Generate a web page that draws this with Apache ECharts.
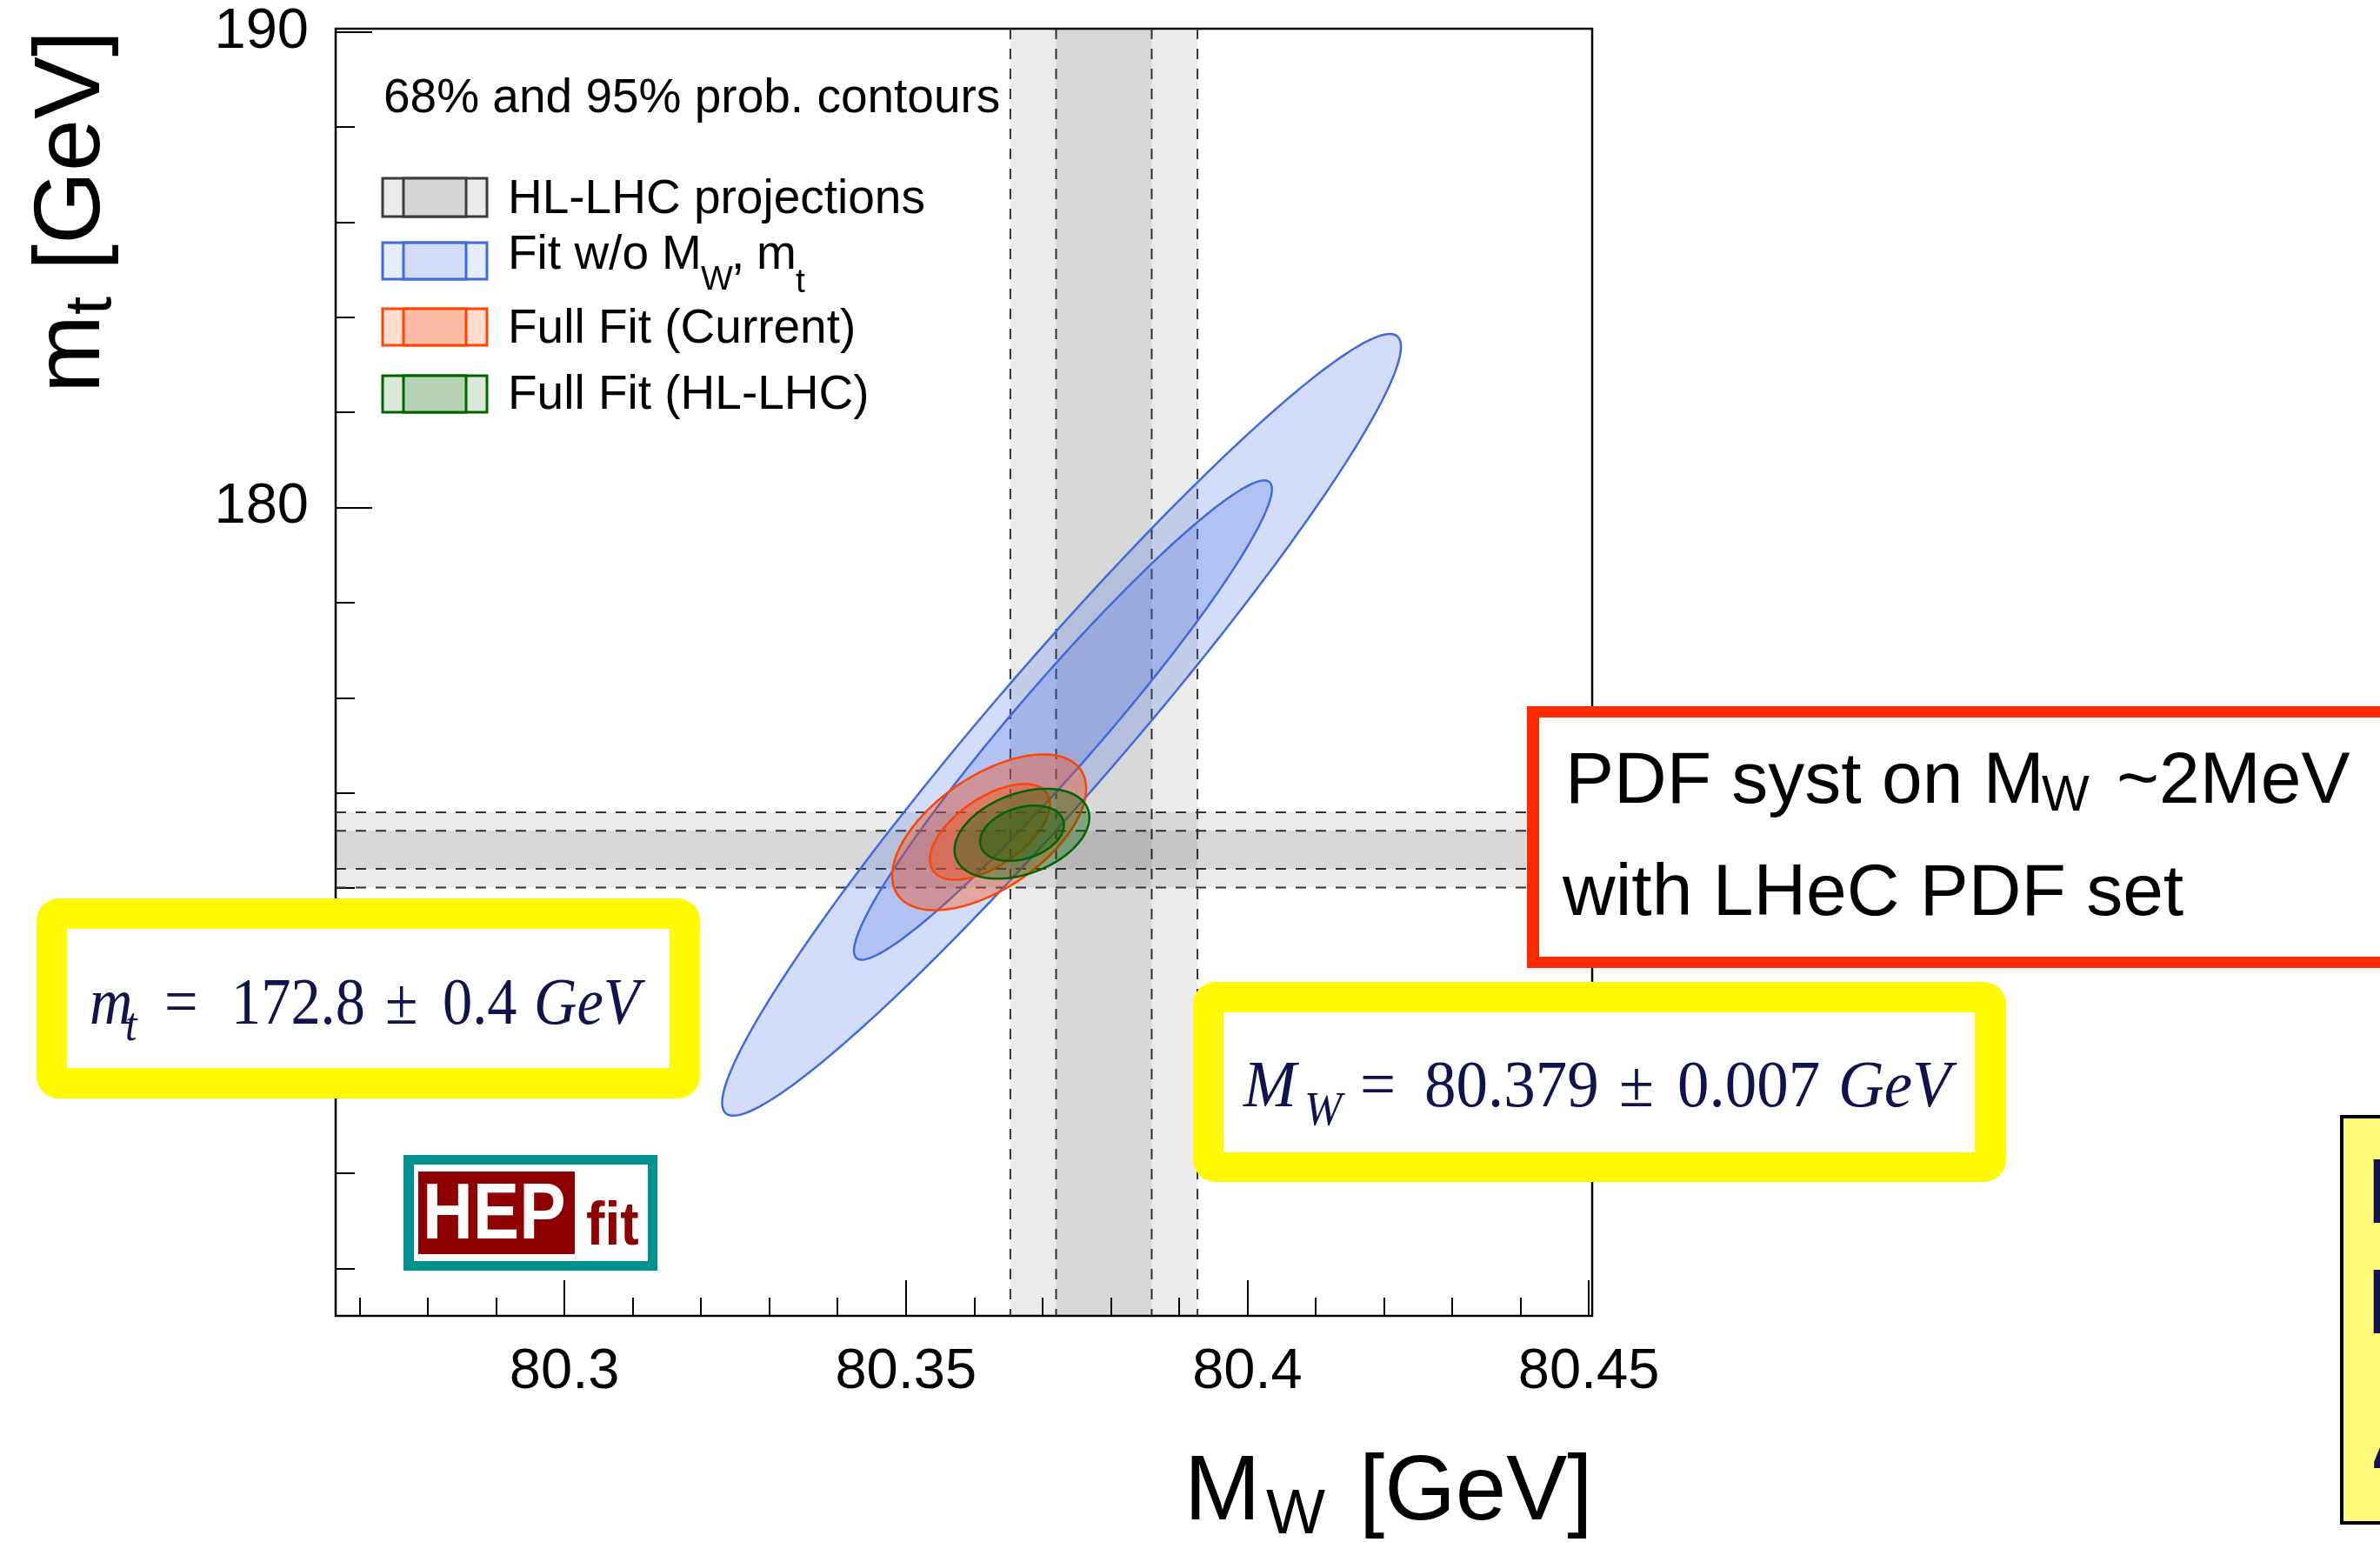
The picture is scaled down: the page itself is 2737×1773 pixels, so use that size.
<!DOCTYPE html>
<html>
<head>
<meta charset="utf-8">
<script src="https://cdn.jsdelivr.net/npm/echarts@6/dist/echarts.min.js"></script>
<style>
  html, body { margin: 0; padding: 0; background: #fff; }
  #chart { width: 2737px; height: 1773px; }
</style>
</head>
<body>
<div id="chart"></div>
<script>
// Axis ranges and tick positions
const mwRange = [80.2665, 80.4505];
const mtRange = [163, 190.07];
const mwMajorTicks = [80.3, 80.35, 80.4, 80.45];
const mwMinorTicks = [80.27, 80.28, 80.29, 80.31, 80.32, 80.33, 80.34, 80.36, 80.37,
                      80.38, 80.39, 80.41, 80.42, 80.43, 80.44];
const mtMajorTicks = [170, 180, 190];
const mtMinorTicks = [164, 166, 168, 172, 174, 176, 178, 182, 184, 186, 188];

// HL-LHC projected measurements: central value, 68% half-width, 95% half-width
const mwProjection = [80.379, 0.007, 0.0137];
const mtProjection = [172.8, 0.4, 0.79];

// Fit probability contours (one entry per contour, 95% drawn before 68%)
const fitStroke = ['#4169E1', '#FF4500', '#006400'];
const fitFill = ['rgba(65,105,225,0.23)', 'rgba(255,69,0,0.35)', 'rgba(0,100,0,0.35)'];
const contourFit = [0, 0, 1, 1, 2, 2];
const contourMw = [80.3728, 80.3730, 80.3622, 80.3623, 80.3670, 80.3670];
const contourMt = [175.43, 175.53, 173.17, 173.18, 173.14, 173.15];
const contourDMw = [0.0497, 0.0306, 0.0142, 0.00878, 0.00987, 0.00614];
const contourDMt = [8.22, 5.04, 1.638, 1.007, 0.946, 0.582];
const contourRho = [0.967, 0.963, 0.56, 0.58, 0.36, 0.30];

// Legend rows
const legendLabels = ['HL-LHC projections', 'Fit w/o', 'Full Fit (Current)', 'Full Fit (HL-LHC)'];
const legendStroke = ['#3c3c3c', '#4169E1', '#FF4500', '#006400'];
const legendLight = ['#EBEBEB', '#E6ECFB', '#FFDCD0', '#D9E8D9'];
const legendDark = ['#D6D6D6', '#D2DCF6', '#FFBBA6', '#B7D2B7'];

const NAVY = '#12124e';
const SANS = 'Liberation Sans';
const SERIF = 'Liberation Serif';

// text placed by its baseline
function T(x, base, str, fs, o) {
  o = o || {};
  const el = {
    type: 'text', x: x, y: base - 0.345 * fs, silent: true, z: o.z || 100,
    style: {
      text: str, fill: o.fill || '#000', fontSize: fs,
      fontFamily: o.family || SANS,
      fontStyle: o.italic ? 'italic' : 'normal',
      fontWeight: o.bold ? 'bold' : 'normal',
      textAlign: o.align || 'left', textVerticalAlign: 'middle'
    }
  };
  if (o.sx) { el.scaleX = o.sx; }
  return el;
}
function R(x, y, w, h, fill, o) {
  o = o || {};
  return {
    type: 'rect', silent: true, z: o.z || 90,
    shape: { x: x, y: y, width: w, height: h, r: o.r || 0 },
    style: { fill: fill, stroke: o.stroke || null, lineWidth: o.lw || 0 }
  };
}

const graphics = [];

// probability-contour note and legend
graphics.push(T(441, 133, '68% and 95% prob. contours', 55));
const legendTop = [205, 279, 355, 432];
const legendH = [44, 42, 42, 42];
for (let i = 0; i < 4; i++) {
  graphics.push(R(440, legendTop[i], 120, legendH[i], legendLight[i], { stroke: legendStroke[i], lw: 3 }));
  graphics.push(R(464, legendTop[i], 72, legendH[i], legendDark[i], { stroke: legendStroke[i], lw: 3, z: 91 }));
}
graphics.push(T(584, 249, legendLabels[0], 55));
graphics.push(T(584, 313, legendLabels[1], 55));
graphics.push(T(761, 313, 'M', 55));
graphics.push(T(806, 336, 'W', 39));
graphics.push(T(841, 313, ',', 55));
graphics.push(T(870, 313, 'm', 55));
graphics.push(T(915, 339, 't', 39));
graphics.push(T(584, 398, legendLabels[2], 55));
graphics.push(T(584, 474, legendLabels[3], 55));

// axis titles
graphics.push(T(1362, 1754, 'M', 105));
graphics.push(T(1456, 1768, 'W', 72));
graphics.push(T(1563, 1754, '[GeV]', 105));
graphics.push({
  type: 'group', x: 121, y: 452, rotation: Math.PI / 2, z: 100,
  children: [T(0, 0, 'm', 108), T(90, 11, 't', 76), T(141, 0, '[GeV]', 108)]
});

// m_t summary box
graphics.push(R(42, 1033, 763, 230, '#FFFA00', { r: 26 }));
graphics.push(R(77, 1068, 693, 160, '#ffffff', { z: 91 }));
const sf = { family: SERIF, fill: NAVY, sx: 0.9 };
const si = { family: SERIF, fill: NAVY, italic: true, sx: 0.9 };
graphics.push(T(103, 1183, 'm', 76, si));
graphics.push(T(144, 1200, 't', 54, si));
graphics.push(T(189, 1183, '=', 76, sf));
graphics.push(T(266, 1183, String(mtProjection[0]), 76, sf));
graphics.push(T(443, 1183, '±', 76, sf));
graphics.push(T(509, 1183, String(mtProjection[1]), 76, sf));
graphics.push(T(614, 1183, 'GeV', 76, si));

// M_W summary box
graphics.push(R(1372, 1129, 935, 230, '#FFFA00', { r: 26 }));
graphics.push(R(1407, 1164, 864, 161, '#ffffff', { z: 91 }));
const rf = { family: SERIF, fill: NAVY, sx: 0.96 };
const ri = { family: SERIF, fill: NAVY, italic: true, sx: 0.96 };
graphics.push(T(1430, 1278, 'M', 76, ri));
graphics.push(T(1500, 1297, 'W', 54, ri));
graphics.push(T(1564, 1278, '=', 76, rf));
graphics.push(T(1638, 1278, String(mwProjection[0]), 76, rf));
graphics.push(T(1862, 1278, '±', 76, rf));
graphics.push(T(1929, 1278, String(mwProjection[1]), 76, rf));
graphics.push(T(2114, 1278, 'GeV', 76, ri));

// PDF systematic note
graphics.push(R(1756, 812, 1100, 301, '#FF2A00'));
graphics.push(R(1770, 825, 1100, 275, '#ffffff', { z: 91 }));
graphics.push(T(1800, 929, 'PDF syst on M', 84));
graphics.push(T(2348, 936, 'W', 58));
graphics.push(T(2434, 929, '~2MeV', 84));
graphics.push(T(1797, 1058, 'with LHeC PDF set', 84));

// side note box at the right edge
graphics.push(R(2693, 1284, 100, 467, '#FFF97A', { stroke: '#000', lw: 4 }));
graphics.push(T(2721, 1413, 'L', 106, { fill: NAVY }));
graphics.push(T(2721, 1540, 'L', 106, { fill: NAVY }));
graphics.push(T(2727, 1695, 'Δ', 106, { fill: NAVY }));

// HEPfit logo
graphics.push(R(464, 1328, 292, 133, '#009191'));
graphics.push(R(476, 1339, 269, 111, '#ffffff', { z: 91 }));
graphics.push(R(481, 1347, 180, 95, '#8F0000', { z: 92 }));
graphics.push(T(486, 1430, 'HEP', 90, { fill: '#ffffff', bold: true, sx: 0.89 }));
graphics.push(T(674, 1436, 'fit', 70, { fill: '#8F0000', bold: true, sx: 0.92 }));

const tickLine = { color: '#000', width: 2 };

function bandItem(vertical) {
  return function (params, api) {
    const cs = params.coordSys;
    const c = api.value(0), h = api.value(1);
    const dash = { stroke: '#333', lineWidth: 2, lineDash: [12, 11] };
    if (vertical) {
      const a = api.coord([c - h, mtRange[0]])[0];
      const b = api.coord([c + h, mtRange[0]])[0];
      return {
        type: 'group', children: [
          { type: 'rect', shape: { x: a, y: cs.y, width: b - a, height: cs.height }, style: { fill: 'rgba(0,0,0,0.08)' } },
          { type: 'line', shape: { x1: a, y1: cs.y, x2: a, y2: cs.y + cs.height }, style: dash },
          { type: 'line', shape: { x1: b, y1: cs.y, x2: b, y2: cs.y + cs.height }, style: dash }
        ]
      };
    }
    const a = api.coord([mwRange[0], c + h])[1];
    const b = api.coord([mwRange[0], c - h])[1];
    return {
      type: 'group', children: [
        { type: 'rect', shape: { x: cs.x, y: a, width: cs.width, height: b - a }, style: { fill: 'rgba(0,0,0,0.08)' } },
        { type: 'line', shape: { x1: cs.x, y1: a, x2: cs.x + cs.width, y2: a }, style: dash },
        { type: 'line', shape: { x1: cs.x, y1: b, x2: cs.x + cs.width, y2: b }, style: dash }
      ]
    };
  };
}

function contourItem(params, api) {
  const i = params.dataIndex;
  const f = contourFit[i];
  const rho = contourRho[i];
  const s = Math.sqrt(1 - rho * rho);
  const pts = [];
  const N = 240;
  for (let k = 0; k < N; k++) {
    const t = 2 * Math.PI * k / N;
    pts.push(api.coord([
      contourMw[i] + contourDMw[i] * Math.cos(t),
      contourMt[i] + contourDMt[i] * (rho * Math.cos(t) + s * Math.sin(t))
    ]));
  }
  return {
    type: 'polygon', shape: { points: pts },
    style: { fill: fitFill[f], stroke: fitStroke[f], lineWidth: 2.5 }
  };
}

const chart = echarts.init(document.getElementById('chart'), null, { renderer: 'canvas' });
chart.setOption({
  backgroundColor: '#ffffff',
  animation: false,
  grid: {
    left: 386, top: 33, width: 1445, height: 1480,
    show: true, borderColor: '#000', borderWidth: 2.5, backgroundColor: 'transparent'
  },
  xAxis: [{
    type: 'value', min: mwRange[0], max: mwRange[1], position: 'bottom',
    axisLine: { show: false }, splitLine: { show: false },
    axisTick: { show: true, inside: true, length: 41, customValues: mwMajorTicks, lineStyle: tickLine },
    axisLabel: {
      show: true, customValues: mwMajorTicks, fontSize: 65, fontFamily: SANS, color: '#000', margin: 33,
      formatter: function (v) { return String(v); }
    }
  }, {
    type: 'value', min: mwRange[0], max: mwRange[1], position: 'bottom',
    axisLine: { show: false }, splitLine: { show: false },
    axisTick: { show: true, inside: true, length: 21, customValues: mwMinorTicks, lineStyle: tickLine },
    axisLabel: { show: false }
  }],
  yAxis: [{
    type: 'value', min: mtRange[0], max: mtRange[1], position: 'left',
    axisLine: { show: false }, splitLine: { show: false },
    axisTick: { show: true, inside: true, length: 42, customValues: mtMajorTicks, lineStyle: tickLine },
    axisLabel: {
      show: true, customValues: mtMajorTicks, fontSize: 65, fontFamily: SANS, color: '#000', margin: 31,
      formatter: function (v) { return String(v); }
    }
  }, {
    type: 'value', min: mtRange[0], max: mtRange[1], position: 'left',
    axisLine: { show: false }, splitLine: { show: false },
    axisTick: { show: true, inside: true, length: 22, customValues: mtMinorTicks, lineStyle: tickLine },
    axisLabel: { show: false }
  }],
  series: [{
    type: 'custom', name: 'HL-LHC M_W', silent: true, z: 1,
    renderItem: bandItem(true),
    data: [[mwProjection[0], mwProjection[1]], [mwProjection[0], mwProjection[2]]]
  }, {
    type: 'custom', name: 'HL-LHC m_t', silent: true, z: 1,
    renderItem: bandItem(false),
    data: [[mtProjection[0], mtProjection[1]], [mtProjection[0], mtProjection[2]]]
  }, {
    type: 'custom', name: 'contours', silent: true, z: 2,
    renderItem: contourItem,
    data: contourMw.map(function (v, i) { return [v, contourMt[i]]; })
  }],
  graphic: { elements: graphics }
});
</script>
</body>
</html>
